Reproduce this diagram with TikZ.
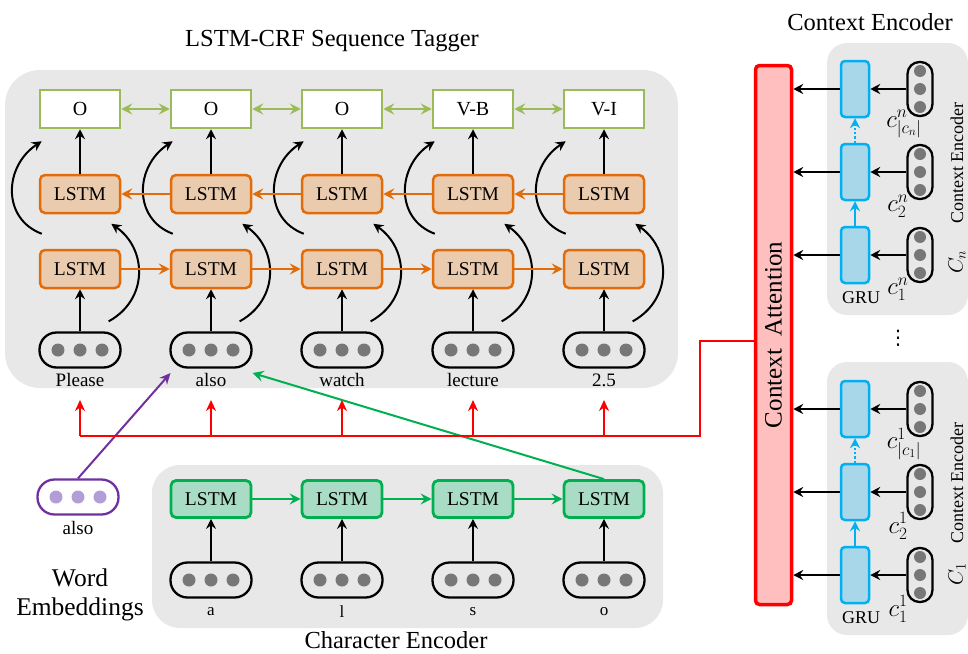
\documentclass[tikz,border=0pt]{standalone}
\usepackage{fontspec}
\setmainfont{Liberation Serif}
\newfontfamily\dejavu{DejaVu Sans}
\usetikzlibrary{arrows.meta,calc}

\definecolor{bggray}{HTML}{E8E8E8}
\definecolor{outgreen}{HTML}{9BBB59}
\definecolor{lorange}{HTML}{E36C0A}
\definecolor{ltan}{HTML}{EBCBAE}
\definecolor{cgreen}{HTML}{00B050}
\definecolor{cgreenfill}{HTML}{A9DCC4}
\definecolor{gblue}{HTML}{00B0F0}
\definecolor{gbluefill}{HTML}{A9D7EA}
\definecolor{attred}{HTML}{FF0000}
\definecolor{attfill}{HTML}{FFBFBF}
\definecolor{purp}{HTML}{7030A0}
\definecolor{purpdot}{HTML}{B39DD6}
\definecolor{dotgray}{HTML}{777777}

\newcommand{\fs}[1]{\fontsize{#1}{#1}\selectfont}
\newcommand{\hpill}[4]{%
  \node[hpillbox,draw=#3] (#1) at (#2) {};
  \foreach \dx in {-22,0,22} \fill[#4] ($(#1.center)+(\dx,0)$) circle (6.5pt);
}
\newcommand{\vpill}[2]{%
  \node[vpillbox] (#1) at (#2) {};
  \foreach \dy in {-18,0,18} \fill[dotgray] ($(#1.center)+(0,\dy)$) circle (6pt);
}

\tikzset{
  bgbox/.style={fill=bggray, draw=none},
  outbox/.style={draw=outgreen, fill=white, line width=2.5pt, minimum width=80pt, minimum height=38pt, font=\fs{20}, inner sep=0pt},
  lstmbox/.style={draw=lorange, fill=ltan, line width=2.5pt, rounded corners=5pt, minimum width=80pt, minimum height=38pt, font=\fs{19.5}, inner sep=0pt},
  charbox/.style={draw=cgreen, fill=cgreenfill, line width=2.8pt, rounded corners=5pt, minimum width=80pt, minimum height=37pt, font=\fs{19.5}, inner sep=0pt},
  grubox/.style={draw=gblue, fill=gbluefill, line width=2.5pt, rounded corners=4pt, minimum width=28pt, minimum height=56pt, inner sep=0pt},
  hpillbox/.style={line width=2.3pt, rounded corners=17pt, minimum width=81pt, minimum height=35pt, inner sep=0pt},
  vpillbox/.style={draw=black, line width=2.3pt, rounded corners=12pt, minimum width=25pt, minimum height=54pt, inner sep=0pt},
  wlabel/.style={font=\fs{19}, inner sep=0pt},
  clabel/.style={font=\fs{17}, inner sep=0pt},
  mlabel/.style={font=\fs{24}, inner sep=0pt},
  arr/.style={line width=2pt, -{Stealth[length=10pt,width=10pt,inset=3.5pt]}},
  orarr/.style={draw=lorange, line width=2.3pt, -{Stealth[length=11pt,width=11pt,inset=4pt]}},
  grarr/.style={draw=outgreen, line width=2.5pt, {Stealth[length=11pt,width=11pt,inset=4pt]}-{Stealth[length=11pt,width=11pt,inset=4pt]}},
  chararr/.style={draw=cgreen, line width=2.2pt, -{Stealth[length=11pt,width=11pt,inset=4pt]}},
  redl/.style={draw=attred, line width=2pt},
  redarr/.style={draw=attred, line width=2pt, -{Stealth[length=11pt,width=10pt,inset=3.5pt]}},
  bluearr/.style={draw=gblue, line width=2.2pt, -{Stealth[length=10pt,width=10pt,inset=3.5pt]}},
}

\begin{document}
\begin{tikzpicture}[x=1pt,y=-1pt]
\useasboundingbox (0,0) rectangle (968,653);

% backgrounds
\fill[bgbox, rounded corners=35pt] (5,70) rectangle (678,388);
\fill[bgbox, rounded corners=28pt] (152,465) rectangle (663,628);
\fill[bgbox, rounded corners=20pt] (827,43) rectangle (968,315);
\fill[bgbox, rounded corners=20pt] (827,362) rectangle (968,635);

% titles
\node[font=\fs{24.5}] (ttag) at (332,41) {LSTM-CRF Sequence Tagger};
\node[font=\fs{24.5}] (tctx) at (870,22) {Context Encoder};
\node[font=\fs{24.5}] (tchar) at (396,640) {Character Encoder};
\node[font=\fs{25.5}, align=center, inner sep=0pt] (tword) at (80,595) {Word\\[3pt]Embeddings};

% sequence tagger columns
\foreach \i/\x/\o/\w in {1/80/O/Please, 2/211/O/also, 3/342/O/watch, 4/473/V-B/lecture, 5/604/V-I/2.5}{
  \node[outbox] (out\i) at (\x,109) {\o};
  \node[lstmbox] (bw\i) at (\x,194) {LSTM};
  \node[lstmbox] (fw\i) at (\x,269) {LSTM};
  \hpill{emb\i}{\x,350}{black}{dotgray}
  \node[wlabel] (word\i) at (\x,380) {\w};
  \draw[arr] (emb\i.north) -- (fw\i.south);
  \draw[arr] (bw\i.north) -- (out\i.south);
  \draw[arr] ($(emb\i.north east)+(-13,-10)$) .. controls +(40,-22) and +(36,25) .. ($(fw\i.north east)+(-10,-25)$);
  \draw[arr] ($(fw\i.north west)+(3,-15)$) .. controls +(-40,-15) and +(-38,25) .. ($(out\i.south west)+(3,12)$);
}
\foreach \i/\j in {1/2,2/3,3/4,4/5}{
  \draw[orarr] (fw\i.east) -- (fw\j.west);
  \draw[orarr] (bw\j.west) -- (bw\i.east);
  \draw[grarr] (out\i.east) -- (out\j.west);
}

% character encoder
\foreach \i/\x/\c in {1/211/a, 2/342/l, 3/473/s, 4/604/o}{
  \node[charbox] (cl\i) at (\x,499) {LSTM};
  \hpill{cp\i}{\x,580}{black}{dotgray}
  \node[clabel] (cc\i) at (\x,612) {\c};
  \draw[arr] (cp\i.north) -- (cl\i.south);
}
\foreach \i/\j in {1/2,2/3,3/4}{
  \draw[chararr] (cl\i.east) -- (cl\j.west);
}

% word embedding
\hpill{wemb}{78,497}{purp}{purpdot}
\node[wlabel] (wembl) at (78,528) {also};
\coordinate (alsoL) at ($(word2.west)+(-25,-7)$);
\coordinate (alsoR) at ($(word2.east)+(26,-7)$);
\draw[draw=purp, line width=2pt, -{Stealth[length=11pt,width=10pt,inset=3.5pt]}] (wemb.north) -- (alsoL);
\draw[chararr, line width=2pt] (cl4.north) -- (alsoR);

% context attention
\node[draw=attred, fill=attfill, line width=3.5pt, rounded corners=4pt, minimum width=36pt, minimum height=539pt, inner sep=0pt] (attn) at (773.5,335) {};
\node[rotate=90, font=\fs{25}, inner sep=0pt] (attnt) at (attn.center) {Context\hspace{0.5em}Attention};

% red connections
\coordinate (rtop) at (700,341);
\coordinate (rbus) at (700,436);
\draw[redl] (attn.west |- rtop) -- (rtop) -- (rbus) -- (word1 |- rbus);
\foreach \i in {1,...,5}{
  \draw[redarr] (word\i |- rbus) -- ++(0,-36);
}

% context encoders
\foreach \k/\a/\b/\c in {n/255/172/89, o/575/492/409}{
  \node[grubox] (g\k1) at (855,\a) {};
  \node[grubox] (g\k2) at (855,\b) {};
  \node[grubox] (g\k3) at (855,\c) {};
  \vpill{p\k1}{920,\a}
  \vpill{p\k2}{920,\b}
  \vpill{p\k3}{920,\c}
  \foreach \m in {1,2,3}{
    \draw[arr] (p\k\m.west) -- (g\k\m.east);
    \draw[arr] (g\k\m.west) -- (g\k\m.west -| attn.east);
  }
  \draw[bluearr] (g\k1.north) -- (g\k2.south);
  \draw[bluearr, dotted] (g\k2.north) -- (g\k3.south);
  \node[font=\fs{18}, inner sep=0pt] (gru\k) at (861,\a+43) {GRU};
}
\node[mlabel] (lbn1) at (898,289) {$c^{n}_{1}$};
\node[mlabel] (lbn2) at (898,206) {$c^{n}_{2}$};
\node[mlabel] (lbn3) at (904,124) {$c^{n}_{|c_n|}$};
\node[mlabel] (lbo1) at (898,609) {$c^{1}_{1}$};
\node[mlabel] (lbo2) at (898,526) {$c^{1}_{2}$};
\node[mlabel] (lbo3) at (904,444) {$c^{1}_{|c_1|}$};

\node[rotate=90, font=\fs{18}, inner sep=0pt] (cen) at (957,163) {Context Encoder};
\node[rotate=90, font=\fs{20}, inner sep=0pt] (cnn) at (957,262) {$C_n$};
\node[rotate=90, font=\fs{18}, inner sep=0pt] (ceo) at (957,483) {Context Encoder};
\node[rotate=90, font=\fs{20}, inner sep=0pt] (cno) at (957,574) {$C_1$};
\node[font=\dejavu\fs{20}, inner sep=0pt] (vdts) at (898,338) {⋮};
\end{tikzpicture}
\end{document}
